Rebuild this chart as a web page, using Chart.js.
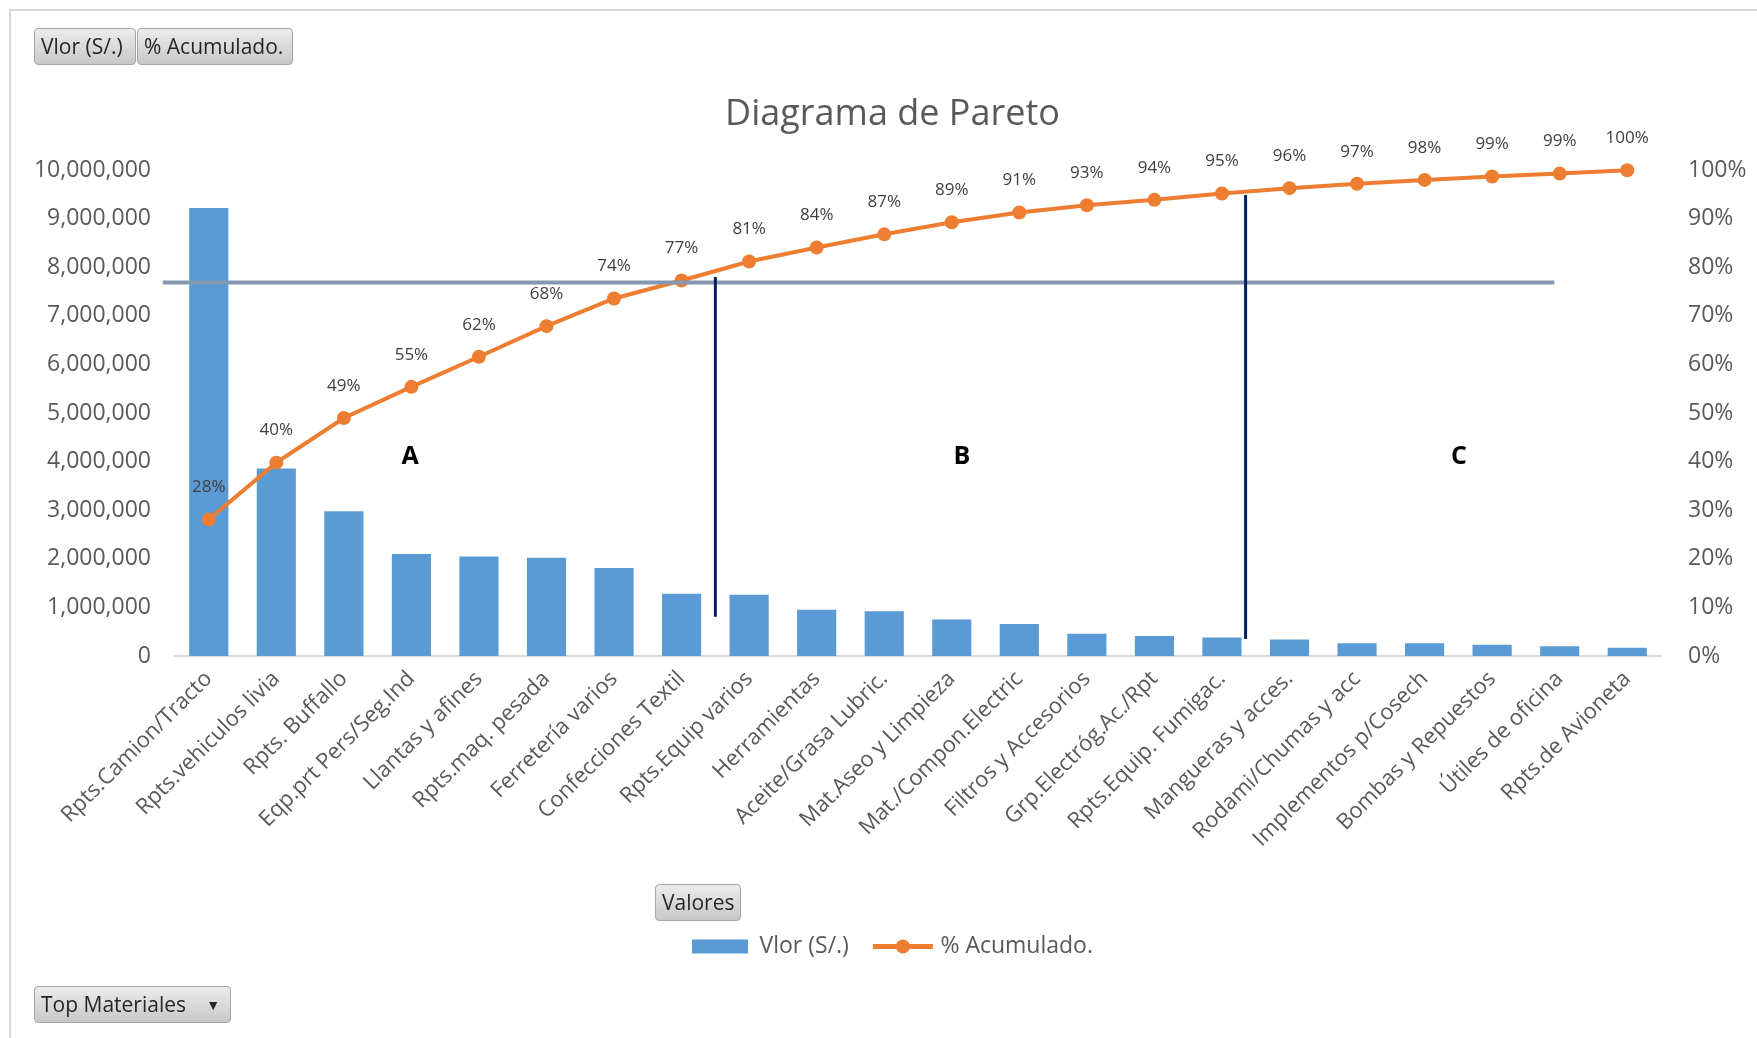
<!DOCTYPE html>
<html lang="es">
<head>
<meta charset="utf-8">
<title>Diagrama de Pareto</title>
<script src="https://cdn.jsdelivr.net/npm/chart.js@4.4.1/dist/chart.umd.min.js"></script>
<style>
  html, body { margin: 0; padding: 0; background: #fff; }
  body { width: 1757px; height: 1038px; overflow: hidden; position: relative; font-family: 'Open Sans', sans-serif; }
  #marco { position: absolute; left: 9px; top: 9px; width: 1760px; height: 1040px; border-left: 2px solid #d9d9d9; border-top: 2px solid #d9d9d9; }
  #wrap { position: absolute; left: 0; top: 0; width: 1757px; height: 1038px; }
  .btn {
    position: absolute; height: 37px; line-height: 35px; padding: 0 6px;
    font-size: 21px; color: #262626; white-space: nowrap; box-sizing: border-box;
    background: linear-gradient(#ececec, #c8c8c8); border: 1px solid #a6a6a6; border-radius: 4px;
  }
  .btn .flecha { position: absolute; right: 10px; top: 0; font-size: 14px; }
</style>
</head>
<body>
<div id="marco"></div>
<div id="wrap"><canvas id="paretoChart"></canvas></div>
<div class="btn" style="left:34px; top:28px; width:102px;">Vlor (S/.)</div>
<div class="btn" style="left:137px; top:28px; width:156px;">% Acumulado.</div>
<div class="btn" style="left:655px; top:884px; width:86px;">Valores</div>
<div class="btn" style="left:34px; top:986px; width:197px;">Top Materiales<span class="flecha">&#9660;</span></div>

<script>
// datos
const categorias = ['Rpts.Camion/Tracto', 'Rpts.vehiculos livia', 'Rpts. Buffallo', 'Eqp.prt Pers/Seg.Ind',
    'Llantas y afines', 'Rpts.maq. pesada', 'Ferretería varios', 'Confecciones Textil', 'Rpts.Equip varios',
    'Herramientas', 'Aceite/Grasa Lubric.', 'Mat.Aseo y Limpieza', 'Mat./Compon.Electric', 'Filtros y Accesorios',
    'Grp.Electróg.Ac./Rpt', 'Rpts.Equip. Fumigac.', 'Mangueras y acces.', 'Rodami/Chumas y acc',
    'Implementos p/Cosech', 'Bombas y Repuestos', 'Útiles de oficina', 'Rpts.de Avioneta'];
const valores = [9220000, 3860000, 2980000, 2100000, 2050000, 2020000, 1810000, 1280000, 1260000, 950000, 920000,
    750000, 660000, 460000, 410000, 380000, 340000, 260000, 260000, 230000, 200000, 170000];
const acumulado = [28.1, 39.8, 49.0, 55.4, 61.6, 67.9, 73.6, 77.3, 81.2, 84.1, 86.8, 89.3, 91.3, 92.8, 93.9,
    95.2, 96.3, 97.2, 98.0, 98.7, 99.3, 100];
const ticksValor = [0, 1000000, 2000000, 3000000, 4000000, 5000000, 6000000, 7000000, 8000000, 9000000, 10000000];
const ticksPct = [0, 10, 20, 30, 40, 50, 60, 70, 80, 90, 100];

// lineas y letras de zonas ABC (indice de categoria, %)
const corteH = { pct: 76.9, desde: -0.68, hasta: 19.92 };
const cortesV = [
    { idx: 7.5, desde: 8.1, hasta: 78 },
    { idx: 15.35, desde: 3.5, hasta: 94.9 }
];
const zonas = [
    { texto: 'A', idx: 2.98, pct: 41 },
    { texto: 'B', idx: 11.15, pct: 41 },
    { texto: 'C', idx: 18.51, pct: 41 }
];

const AZUL = '#5B9BD5';
const NARANJA = '#ED7D31';
const GRIS = '#595959';
const FUENTE = "'Open Sans', sans-serif";

const extrasPareto = {
    id: 'extrasPareto',
    afterDatasetsDraw(chart) {
        const ctx = chart.ctx;
        const x = chart.scales.x;
        const y1 = chart.scales.y1;
        ctx.save();

        // etiquetas de %
        const meta = chart.getDatasetMeta(1);
        ctx.fillStyle = '#404040';
        ctx.font = '17px ' + FUENTE;
        ctx.textAlign = 'center';
        ctx.textBaseline = 'middle';
        meta.data.forEach((pt, i) => {
            ctx.fillText(Math.round(acumulado[i]) + '%', pt.x, pt.y - 32);
        });

        // linea horizontal
        ctx.strokeStyle = '#8497B0';
        ctx.lineWidth = 4;
        ctx.beginPath();
        ctx.moveTo(x.getPixelForValue(corteH.desde), y1.getPixelForValue(corteH.pct));
        ctx.lineTo(x.getPixelForValue(corteH.hasta), y1.getPixelForValue(corteH.pct));
        ctx.stroke();

        // lineas verticales
        ctx.strokeStyle = '#002060';
        ctx.lineWidth = 3;
        cortesV.forEach(c => {
            const px = x.getPixelForValue(c.idx);
            ctx.beginPath();
            ctx.moveTo(px, y1.getPixelForValue(c.desde));
            ctx.lineTo(px, y1.getPixelForValue(c.hasta));
            ctx.stroke();
        });

        // letras
        ctx.fillStyle = '#000';
        ctx.font = 'bold 25px ' + FUENTE;
        zonas.forEach(z => {
            ctx.fillText(z.texto, x.getPixelForValue(z.idx), y1.getPixelForValue(z.pct));
        });
        ctx.restore();
    },
    afterDraw(chart) {
        // simbolo de linea con marcador en la leyenda
        const cajas = chart.legend && chart.legend.legendHitBoxes;
        if (!cajas || !cajas[1]) return;
        const b = cajas[1];
        const ctx = chart.ctx;
        const cy = b.top + b.height / 2;
        ctx.save();
        ctx.strokeStyle = NARANJA;
        ctx.lineWidth = 5;
        ctx.beginPath();
        ctx.moveTo(b.left, cy);
        ctx.lineTo(b.left + 60, cy);
        ctx.stroke();
        ctx.fillStyle = NARANJA;
        ctx.beginPath();
        ctx.arc(b.left + 30, cy, 7, 0, Math.PI * 2);
        ctx.fill();
        ctx.restore();
    }
};

document.addEventListener('DOMContentLoaded', function() {
    const ctx = document.getElementById('paretoChart').getContext('2d');

    new Chart(ctx, {
        type: 'bar',
        data: {
            labels: categorias,
            datasets: [
                {
                    label: 'Vlor (S/.)',
                    data: valores,
                    backgroundColor: AZUL,
                    borderWidth: 0,
                    yAxisID: 'y',
                    categoryPercentage: 0.58,
                    barPercentage: 1,
                    order: 2
                },
                {
                    type: 'line',
                    label: '% Acumulado.',
                    data: acumulado,
                    borderColor: NARANJA,
                    backgroundColor: NARANJA,
                    borderWidth: 4,
                    pointRadius: 7,
                    pointBackgroundColor: NARANJA,
                    pointBorderWidth: 0,
                    tension: 0,
                    clip: false,
                    yAxisID: 'y1',
                    order: 1
                }
            ]
        },
        options: {
            responsive: true,
            maintainAspectRatio: false,
            animation: false,
            layout: {
                padding: { left: 28, right: 0, top: 10, bottom: 70 }
            },
            scales: {
                x: {
                    offset: true,
                    grid: { display: false, drawTicks: false },
                    border: { display: true, color: '#D9D9D9', width: 2 },
                    ticks: {
                        color: GRIS,
                        font: { family: FUENTE, size: 22 },
                        minRotation: 45,
                        maxRotation: 45,
                        autoSkip: false,
                        padding: 10
                    },
                    afterFit(scale) { scale.height = 255; }
                },
                y: {
                    position: 'left',
                    min: 0,
                    max: 10000000,
                    grid: { display: false, drawTicks: false },
                    border: { display: false },
                    afterBuildTicks(scale) { scale.ticks = ticksValor.map(v => ({ value: v })); },
                    ticks: {
                        color: GRIS,
                        font: { family: FUENTE, size: 23 },
                        padding: 24,
                        callback: v => v.toLocaleString('en-US')
                    },
                    afterFit(scale) { scale.width = 147; }
                },
                y1: {
                    position: 'right',
                    min: 0,
                    max: 100,
                    grid: { display: false, drawTicks: false },
                    border: { display: false },
                    afterBuildTicks(scale) { scale.ticks = ticksPct.map(v => ({ value: v })); },
                    ticks: {
                        color: GRIS,
                        font: { family: FUENTE, size: 23 },
                        padding: 27,
                        callback: v => v + '%'
                    },
                    afterFit(scale) { scale.width = 96; }
                }
            },
            plugins: {
                title: {
                    display: true,
                    text: 'Diagrama de Pareto',
                    color: GRIS,
                    font: { family: FUENTE, size: 36, weight: 'normal' },
                    padding: { top: 83, bottom: 34 }
                },
                legend: {
                    position: 'bottom',
                    labels: {
                        color: GRIS,
                        font: { family: FUENTE, size: 23 },
                        boxWidth: 56,
                        boxHeight: 14,
                        padding: 24,
                        generateLabels(chart) {
                            const items = Chart.defaults.plugins.legend.labels.generateLabels(chart);
                            items.forEach(it => {
                                if (it.datasetIndex === 1) {
                                    it.fillStyle = 'rgba(0,0,0,0)';
                                    it.strokeStyle = 'rgba(0,0,0,0)';
                                    it.lineWidth = 0;
                                }
                            });
                            return items.sort((a, b) => a.datasetIndex - b.datasetIndex);
                        }
                    }
                },
                tooltip: { enabled: false }
            }
        },
        plugins: [extrasPareto]
    });
});
</script>
</body>
</html>
